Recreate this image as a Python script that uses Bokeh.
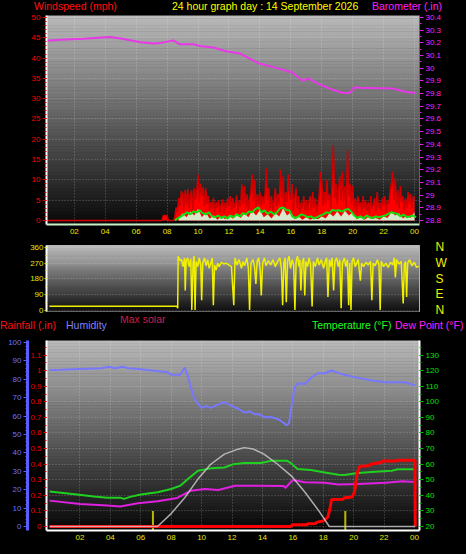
from bokeh.plotting import figure
from bokeh.layouts import column
from bokeh.models import (Range1d, LinearAxis, FixedTicker, NumeralTickFormatter, Div,
                          GlobalInlineStyleSheet)
from bokeh.embed import file_html
from bokeh.resources import INLINE

FONT = "Liberation Sans"

# ---------------- data ----------------
hour_ticks = [2, 4, 6, 8, 10, 12, 14, 16, 18, 20, 22, 24]
hour_labels = ["02", "04", "06", "08", "10", "12", "14", "16", "18", "20", "22", "00"]

wind_ticks = [0, 5, 10, 15, 20, 25, 30, 35, 40, 45, 50]
baro_ticks = [28.8, 28.9, 29.0, 29.1, 29.2, 29.3, 29.4, 29.5, 29.6, 29.7, 29.8, 29.9,
              30.0, 30.1, 30.2, 30.3, 30.4]
dir_ticks = [0, 90, 180, 270, 360]
dir_names = ["N", "E", "S", "W", "N"]
hum_ticks = [0, 10, 20, 30, 40, 50, 60, 70, 80, 90, 100]
rain_ticks = [0.0, 0.1, 0.2, 0.3, 0.4, 0.5, 0.6, 0.7, 0.8, 0.9, 1.0, 1.1, 1.2]
temp_ticks = [20, 30, 40, 50, 60, 70, 80, 90, 100, 110, 120, 130]

# barometer (inHg)
baro_hours = [0.0, 1.1, 2.6, 4.3, 5.0, 6.3, 7.1, 7.6, 8.4, 8.8, 9.7, 10.1, 11.0, 11.8, 12.7,
              13.9, 15.0, 16.1, 16.8, 17.1, 17.8, 18.7, 19.4, 19.8, 20.1, 20.4, 22.6, 23.4, 24.1]
baro_inhg = [30.215, 30.225, 30.233, 30.246, 30.235, 30.205, 30.195, 30.20, 30.22, 30.19,
             30.19, 30.176, 30.164, 30.134, 30.117, 30.04, 30.005, 29.967, 29.90, 29.92,
             29.877, 29.83, 29.805, 29.805, 29.85, 29.846, 29.84, 29.815, 29.805]

# wind gust (mph), 5-minute samples from 07:30
gust_start = 7.5
gust_mph = [
    0, 0, 0, 1.2, 1.2, 1.2,
    1.2, 0, 0, 0, 0, 0, 1.0, 3.2, 2.0, 5.5, 3.5, 7.2,
    6.5, 2.8, 7.5, 4.0, 7.8, 3.0, 6.0, 7.5, 2.5, 8.0, 5.0, 7.0,
    11.3, 4.5, 9.0, 6.0, 8.2, 3.5, 8.0, 4.0, 6.0, 2.5, 4.5, 3.0,
    5.5, 2.0, 4.5, 3.0, 5.0, 2.0, 4.0, 5.2, 1.8, 4.5, 3.0, 5.5,
    3.5, 6.0, 2.5, 5.5, 3.0, 4.5, 6.2, 2.0, 5.0, 3.5, 8.9, 4.0,
    8.5, 3.0, 6.5, 2.5, 5.5, 7.0, 11.3, 4.5, 10.0, 3.0, 6.5, 4.0,
    7.0, 3.5, 6.0, 4.0, 6.5, 12.8, 5.0, 8.0, 3.0, 6.0, 2.5, 5.0,
    8.0, 3.5, 6.5, 4.0, 12.5, 5.5, 11.0, 3.0, 7.0, 4.5, 11.3, 6.0,
    5.0, 9.0, 2.5, 5.5, 8.0, 3.0, 6.0, 2.0, 4.5, 3.0, 6.0, 2.5,
    5.0, 2.0, 4.5, 6.0, 2.5, 7.0, 3.0, 5.5, 2.0, 4.0, 6.5, 12.0,
    9.6, 3.5, 7.0, 4.0, 10.0, 5.0, 6.5, 3.0, 9.0, 18.5, 5.5, 9.0,
    4.0, 7.5, 11.0, 5.0, 12.0, 4.5, 8.5, 3.0, 17.3, 6.0, 9.0, 4.0,
    8.5, 3.0, 5.5, 2.0, 6.0, 3.5, 4.5, 2.0, 6.0, 3.0, 5.0, 2.5,
    4.5, 1.5, 6.0, 3.0, 4.0, 5.5, 2.0, 7.0, 3.0, 4.5, 2.5, 5.5,
    3.5, 6.0, 2.0, 5.0, 4.0, 7.0, 9.0, 12.0, 5.0, 10.5, 4.0, 7.5,
    3.0, 8.5, 4.5, 6.0, 2.5, 5.5, 3.0, 7.0, 4.0, 6.5, 3.0, 6.0,
    5.5]

# average wind (mph), samples every 0.2 h from 08:30
avg_start = 8.5
avg_mph = [0, 0.5, 1.0, 1.5, 2.0, 1.5, 2.2, 2.0, 2.5, 1.8, 1.5, 2.0, 1.0, 0.8, 1.2, 0.6, 1.0,
           0.5, 1.2, 0.8, 1.5, 1.0, 1.8, 1.5, 2.2, 2.0, 2.8, 3.2, 2.0, 2.5, 1.6, 2.2, 1.5, 2.0,
           3.0, 3.2, 2.6, 2.5, 1.0, 0.6, 1.0, 1.5, 1.2, 0.8, 1.0, 0.5, 0.8, 1.2, 1.5, 2.0, 1.8,
           2.6, 2.4, 2.5, 2.2, 2.6, 2.8, 2.2, 1.2, 0.6, 1.0, 0.5, 1.2, 0.8, 0.6, 1.0, 0.8, 1.0,
           1.2, 1.6, 2.0, 1.8, 1.6, 1.0, 1.4, 0.8, 1.0, 1.2, 0.8]

# wind speed (mph), samples every 0.25 h from 08:45
speed_start = 8.75
speed_mph = [0.5, 1.8, 0.8, 2.2, 1.2, 2.9, 0.8, 2.0, 0.4, 1.2, 0.2, 1.0, 0.3, 1.2, 0.4, 1.5,
             0.6, 1.8, 0.8, 2.4, 1.2, 2.6, 0.8, 1.5, 0.5, 1.8, 1.0, 3.0, 1.2, 2.0, 0.3, 1.0,
             0.2, 0.8, 0.2, 0.6, 0.3, 1.0, 0.5, 1.8, 1.0, 2.2, 1.0, 2.4, 1.2, 2.0, 0.3, 0.8,
             0.2, 0.8, 0.3, 0.6, 0.2, 1.0, 0.6, 2.0, 1.2, 1.8, 0.5, 1.2, 0.6, 2.0]

# wind direction (degrees)
dir_hours = [0.0, 8.3, 8.35, 8.38, 8.5, 8.6, 8.7, 8.8, 8.84, 8.9,
             9.0, 9.1, 9.2, 9.27, 9.35, 9.42, 9.48, 9.55, 9.65, 9.75,
             9.85, 9.91, 9.98, 10.1, 10.2, 10.3, 10.4, 10.5, 10.6, 10.67,
             10.75, 10.85, 10.95, 11.05, 11.2, 11.35, 11.5, 11.7, 11.85, 12.0,
             12.08, 12.2, 12.35, 12.5, 12.6, 12.7, 12.85, 12.95, 13.03, 13.12,
             13.25, 13.35, 13.44, 13.52, 13.62, 13.72, 13.79, 13.88, 14.0, 14.1,
             14.25, 14.4, 14.55, 14.7, 14.85, 15.0, 15.1, 15.18, 15.26, 15.34,
             15.42, 15.5, 15.6, 15.7, 15.8, 15.9, 15.98, 16.06, 16.15, 16.25,
             16.3, 16.37, 16.45, 16.55, 16.62, 16.7, 16.8, 16.9, 17.0, 17.1,
             17.18, 17.3, 17.45, 17.55, 17.7, 17.85, 17.95, 18.05, 18.13, 18.22,
             18.3, 18.4, 18.5, 18.58, 18.7, 18.8, 18.9, 18.99, 19.07, 19.2,
             19.3, 19.4, 19.48, 19.55, 19.63, 19.7, 19.8, 19.9, 20.0, 20.1,
             20.24, 20.32, 20.45, 20.6, 20.75, 20.9, 20.99, 21.07, 21.2, 21.35,
             21.45, 21.53, 21.6, 21.75, 21.9, 22.05, 22.2, 22.35, 22.45, 22.52,
             22.6, 22.75, 22.9, 23.03, 23.1, 23.18, 23.25, 23.32, 23.45, 23.6,
             23.75, 23.9, 24.05]
dir_deg = [22, 22, 10, 310, 285, 290, 250, 300, 112, 280,
           300, 250, 295, 0, 270, 310, 0, 280, 250, 300,
           260, 56, 270, 300, 255, 290, 240, 270, 300, 28,
           260, 230, 270, 250, 275, 265, 270, 258, 250, 28,
           300, 260, 290, 240, 280, 255, 300, 240, 0, 270,
           290, 250, 150, 280, 300, 230, 84, 270, 300, 255,
           285, 260, 290, 250, 280, 300, 240, 28, 270, 300,
           45, 280, 310, 240, 290, 260, 0, 280, 310, 250,
           290, 112, 270, 300, 84, 280, 250, 300, 260, 20,
           280, 250, 300, 260, 290, 240, 280, 300, 75, 290,
           250, 300, 112, 280, 300, 250, 290, 10, 270, 300,
           250, 290, 28, 270, 0, 280, 300, 250, 270, 290,
           169, 270, 250, 275, 260, 280, 56, 270, 255, 290,
           260, 0, 280, 250, 270, 245, 275, 260, 300, 188,
           290, 265, 280, 38, 260, 280, 75, 270, 290, 255,
           275, 245, 253]

# humidity (%)
hum_hours = [0.0, 0.8, 1.5, 2.5, 3.4, 3.9, 4.3, 4.8, 5.2, 6.0, 7.0, 7.7, 8.0, 8.6, 8.89,
             9.05, 9.29, 9.5, 9.76, 10.0, 10.3, 10.6, 11.0, 11.48, 11.75, 12.14, 12.4, 12.8,
             13.2, 13.47, 13.8, 14.13, 14.5, 14.79, 15.1, 15.45, 15.57, 15.75, 15.9, 16.12,
             16.32, 16.78, 17.22, 17.64, 18.1, 18.55, 18.97, 19.4, 19.87, 20.5, 21.2, 22.08,
             23.4, 24.05]
hum_pct = [85.0, 85.2, 85.5, 85.8, 86.0, 86.8, 86.0, 86.8, 86.0, 85.5, 84.5, 84.0, 82.5, 82.5,
           86.4, 83.0, 75.7, 70.0, 66.8, 64.5, 65.5, 64.5, 66.0, 67.6, 66.5, 65.0, 64.0, 62.0,
           62.5, 61.0, 61.0, 59.4, 59.5, 59.0, 58.0, 56.0, 55.0, 56.0, 64.9, 75.7, 77.7, 77.5,
           81.0, 83.3, 83.3, 84.8, 83.5, 82.5, 81.5, 80.5, 79.3, 78.4, 78.4, 76.6]

# temperature / dew point (F)
temp_hours = [0.0, 1.8, 2.9, 3.8, 4.65, 4.9, 5.3, 6.0, 7.1, 8.0, 8.6, 9.1, 9.76, 10.6, 11.5,
              12.1, 12.8, 13.9, 14.6, 15.6, 15.9, 16.3, 17.2, 18.1, 19.0, 19.4, 20.3, 21.4,
              22.5, 22.9, 24.05]
temp_f = [42.4, 40.5, 39.2, 38.5, 38.5, 37.7, 39.0, 40.5, 42.0, 44.1, 46.2, 50.5, 55.8, 57.3,
          57.9, 60.0, 60.7, 60.7, 62.2, 62.2, 60.5, 56.9, 56.2, 54.7, 53.2, 53.0, 54.3, 55.2,
          55.8, 56.7, 56.7]
dew_hours = [0.0, 2.0, 3.8, 4.65, 5.8, 7.1, 8.4, 9.3, 10.2, 11.1, 12.2, 13.7, 15.4, 15.5, 16.0,
             16.8, 18.1, 19.0, 20.3, 22.1, 23.2, 24.05]
dew_f = [36.6, 34.5, 33.4, 32.8, 34.9, 36.2, 38.3, 43.0, 44.1, 43.4, 46.2, 46.2, 46.0, 44.7,
         49.8, 48.4, 48.1, 46.9, 47.3, 48.1, 49.0, 48.6]

# max solar (W/m2)
solar_hours = [0.0, 7.1, 8.0, 8.9, 9.76, 10.6, 11.5, 12.4, 12.8, 13.4, 14.1, 15.0, 15.9, 16.8,
               17.7, 18.4, 24.05]
solar_wm2 = [0, 0, 134, 302, 493, 647, 752, 804, 820, 805, 752, 647, 527, 356, 165, 0, 0]

# rainfall (in)
rain_hours = [0.0, 15.9, 15.95, 16.9, 17.0, 17.5, 17.6, 18.0, 18.1, 18.3, 18.45, 18.55, 19.3,
              19.4, 19.9, 20.05, 20.25, 20.4, 21.0, 21.1, 21.8, 21.9, 22.8, 22.9, 24.03, 24.05]
rain_in = [0.0, 0.0, 0.012, 0.012, 0.017, 0.02, 0.028, 0.035, 0.045, 0.06, 0.12, 0.173, 0.175,
           0.185, 0.19, 0.22, 0.35, 0.385, 0.39, 0.40, 0.41, 0.42, 0.42, 0.425, 0.425, 0.0]

# sunrise / sunset markers (h)
sun_hours = [6.8, 19.45]

# ---------------- helpers ----------------
gust_hours = [0.0] + [gust_start + i / 12 for i in range(len(gust_mph))]
gust_vals = [0.0] + gust_mph
avg_hours = [avg_start + 0.2 * i for i in range(len(avg_mph))]
speed_hours = [speed_start + 0.25 * i for i in range(len(speed_mph))]

W = 466
PW = W + 1        # plots are 1px wider and shifted 1px left (hides the canvas edge seam)
BL, BR = 47, 46   # common frame borders (column aligns plot frames)


def css(z):
    return {"background-color": "black", "position": "relative", "z-index": str(z)}


def gradient(p, top, bottom, n=64):
    x0, x1 = p.x_range.start, p.x_range.end
    y0, y1 = p.y_range.start, p.y_range.end
    bots = [y0 + (y1 - y0) * i / n for i in range(n)]
    tops = [y0 + (y1 - y0) * (i + 1) / n for i in range(n)]
    cols = []
    for i in range(n):
        g = int(round(bottom + (top - bottom) * (i + 0.5) / n))
        cols.append("#%02x%02x%02x" % (g, g, g))
    p.quad(left=x0, right=x1, bottom=bots, top=tops, fill_color=cols,
           line_color=cols, line_width=0.6, level="image")


def style_grid(grid, ticks):
    grid.ticker = FixedTicker(ticks=ticks)
    grid.grid_line_color = "#ffffff"
    grid.grid_line_alpha = 0.3
    grid.grid_line_dash = "1 2"
    grid.grid_line_width = 1


def style_axis(ax, tick_color, label_color, size="8px", line_color="white", line_width=2,
               tick_out=4, minor_out=2, standoff=2):
    ax.axis_line_color = line_color
    ax.axis_line_width = line_width
    ax.major_tick_line_color = tick_color
    ax.major_tick_out = tick_out
    ax.major_tick_in = 0
    ax.minor_tick_line_color = tick_color
    ax.minor_tick_out = minor_out
    ax.minor_tick_in = 0
    ax.major_label_text_color = label_color
    ax.major_label_text_font = FONT
    ax.major_label_text_font_size = size
    ax.major_label_standoff = standoff


def header(height, items, z):
    spans = "".join(
        '<span style="position:absolute;left:%dpx;top:%dpx;color:%s;white-space:nowrap">%s</span>'
        % (x, y, c, t) for (t, x, y, c) in items)
    html = ('<div style="position:relative;width:%dpx;height:%dpx;'
            "font-family:'Liberation Sans',Arial,sans-serif;font-size:10.5px;line-height:12px;\">%s</div>"
            % (W, height, spans))
    st = css(z)
    st["overflow"] = "visible"
    return Div(text=html, width=W, height=height, margin=0, styles=st)


common = dict(output_backend="svg", toolbar_location=None, title=None,
              background_fill_color="black", border_fill_color="black",
              outline_line_color=None, width=PW, min_border_left=BL, min_border_right=BR,
              margin=(-1, 0, 0, -1))

# ---------------- header 1 ----------------
d1 = header(11, [("Windspeed (mph)", 34, -1, "#ff1010"),
                 ("24 hour graph day : 14 September 2026", 172, -1, "#ffff00"),
                 ("Barometer (.in)", 372, -1, "#ff20ff")], 5)

# ---------------- panel 1: wind / barometer ----------------
p1 = figure(height=230, x_range=Range1d(0.2, 24.32), y_range=Range1d(-1.0, 50.5),
            min_border_top=5, min_border_bottom=16, styles=css(4), **common)
gradient(p1, 186, 8)
style_grid(p1.xgrid, hour_ticks)
style_grid(p1.ygrid, wind_ticks)

baro_per_mph = (30.4 - 28.8) / 50
p1.extra_y_ranges = {"baro": Range1d(28.8 + p1.y_range.start * baro_per_mph,
                                     28.8 + p1.y_range.end * baro_per_mph)}

p1.varea(x=gust_hours, y1=0, y2=gust_vals, fill_color="#ff0000")
p1.line(gust_hours, gust_vals, line_color="#d00000", line_width=1.5)
p1.varea(x=speed_hours, y1=0, y2=speed_mph, fill_color="#d6f4d6", fill_alpha=0.95)
p1.line(avg_hours, avg_mph, line_color="#10e010", line_width=2)
p1.line(baro_hours, baro_inhg, y_range_name="baro", line_color="#e838e8", line_width=2)

ax = p1.yaxis[0]
ax.ticker = FixedTicker(ticks=wind_ticks, minor_ticks=list(range(0, 51)))
style_axis(ax, "#e00000", "#ff0000")

bax = LinearAxis(y_range_name="baro",
                 ticker=FixedTicker(ticks=baro_ticks,
                                    minor_ticks=[28.8 + 0.05 * i for i in range(33)]),
                 formatter=NumeralTickFormatter(format="0.[0]"))
style_axis(bax, "#e020e0", "#ff20ff", line_color="#c020c0", line_width=1)
p1.add_layout(bax, "right")

xa = p1.xaxis[0]
xa.ticker = FixedTicker(ticks=hour_ticks)
xa.major_label_overrides = dict(zip(hour_ticks, hour_labels))
style_axis(xa, None, "#e8e800", line_color="#c8f0c8", tick_out=0, minor_out=0, standoff=4)

# ---------------- panel 2: wind direction ----------------
p2 = figure(height=77, x_range=Range1d(-0.19, 24.09), y_range=Range1d(-8.6, 371.5),
            min_border_top=6, min_border_bottom=5, x_axis_location=None, styles=css(3),
            **common)
p2.outline_line_color = "#b0b0b0"
gradient(p2, 196, 14)
p2.xgrid.visible = False
style_grid(p2.ygrid, dir_ticks)
p2.line(dir_hours, dir_deg, line_color="#f0f000", line_width=1.5)

dax = p2.yaxis[0]
dax.ticker = FixedTicker(ticks=dir_ticks, minor_ticks=[45, 135, 225, 315])
style_axis(dax, "#e0e000", "#e8e800", tick_out=2, minor_out=1, standoff=1)

nax = LinearAxis(ticker=FixedTicker(ticks=dir_ticks),
                 major_label_overrides=dict(zip(dir_ticks, dir_names)))
style_axis(nax, None, "#f0f000", size="12px", line_color="#b0b0b0", line_width=1,
           tick_out=0, minor_out=0, standoff=16)
p2.add_layout(nax, "right")

# ---------------- header 3 ----------------
d3 = header(21, [("Max solar", 120, -3, "#c8204c"),
                 ("Rainfall (.in)", 0, 3, "#ff1010"),
                 ("Humidity", 66, 3, "#8080ff"),
                 ("Temperature (\u00b0F)", 312, 3, "#20ff20"),
                 ("Dew Point (\u00b0F)", 395, 3, "#ff20ff")], 2)

# ---------------- panel 3: rain / humidity / temperature ----------------
p3 = figure(height=218, x_range=Range1d(-0.2, 24.33), y_range=Range1d(-0.0257, 1.1936),
            min_border_top=4, min_border_bottom=24, styles=css(1), **common)
gradient(p3, 186, 6)
style_grid(p3.xgrid, hour_ticks)
style_grid(p3.ygrid, rain_ticks)

temp_lo = 20 + p3.y_range.start * 100
temp_hi = 20 + p3.y_range.end * 100
solar_per_deg = 16.2
p3.extra_y_ranges = {
    "hum": Range1d(-2.17, 101.09),
    "temp": Range1d(temp_lo, temp_hi),
    "solar": Range1d((temp_lo - 20) * solar_per_deg, (temp_hi - 20) * solar_per_deg),
}

p3.line(hum_hours, hum_pct, y_range_name="hum", line_color="#7878ff", line_width=2)
p3.line(temp_hours, temp_f, y_range_name="temp", line_color="#20d020", line_width=2)
p3.line(dew_hours, dew_f, y_range_name="temp", line_color="#e020e0", line_width=2)
p3.segment(x0=sun_hours, y0=p3.y_range.start, x1=sun_hours, y1=0.1,
           line_color="#b8b800", line_width=2)
p3.line(rain_hours, rain_in, line_color="#ff0000", line_width=3)
p3.line(solar_hours, solar_wm2, y_range_name="solar", line_color="#d0d0d0", line_width=1.5,
        line_alpha=0.8)

rax = p3.yaxis[0]
rax.ticker = FixedTicker(ticks=rain_ticks, minor_ticks=[0.05 * i for i in range(25)])
rax.formatter = NumeralTickFormatter(format="0.[0]")
style_axis(rax, "#e00000", "#e80000", tick_out=3, minor_out=2)

hax = LinearAxis(y_range_name="hum",
                 ticker=FixedTicker(ticks=hum_ticks, minor_ticks=list(range(0, 101, 2))))
style_axis(hax, "#5c5cff", "#7070ff", line_color="#5c5cff", line_width=3)
p3.add_layout(hax, "left")

tax = LinearAxis(y_range_name="temp",
                 ticker=FixedTicker(ticks=temp_ticks, minor_ticks=list(range(20, 136, 5))))
style_axis(tax, "#00c000", "#00e000")
p3.add_layout(tax, "right")

xa3 = p3.xaxis[0]
xa3.ticker = FixedTicker(ticks=hour_ticks)
xa3.major_label_overrides = dict(zip(hour_ticks, hour_labels))
style_axis(xa3, None, "#e8e800", tick_out=0, minor_out=0, standoff=4)

page_css = GlobalInlineStyleSheet(css="html, body { background-color: black; overflow: hidden; }")
page = column(d1, p1, p2, d3, p3, spacing=0, styles={"background-color": "black"},
              stylesheets=[page_css])
open("out.html", "w").write(file_html(page, INLINE))
